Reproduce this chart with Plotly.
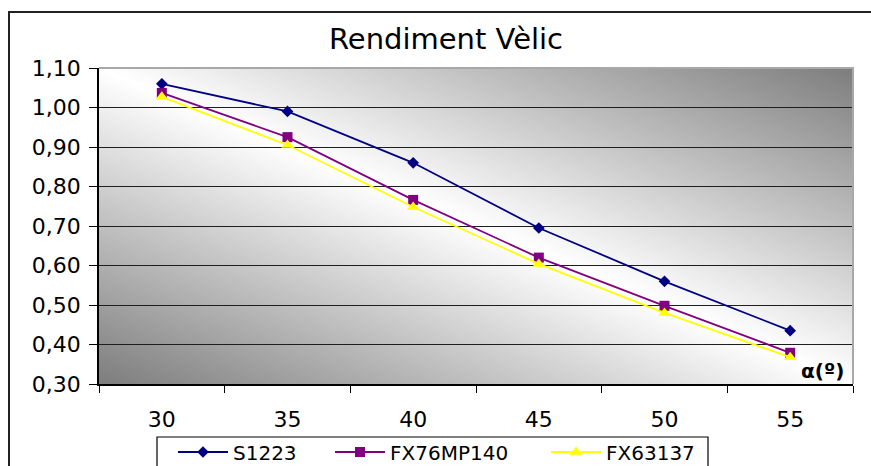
import base64
import plotly.graph_objects as go

# ---- data ----
angles = ["30", "35", "40", "45", "50", "55"]
s1223 = [1.06, 0.99, 0.86, 0.695, 0.56, 0.435]
fx76mp140 = [1.037, 0.925, 0.766, 0.62, 0.498, 0.379]
fx63137 = [1.027, 0.905, 0.748, 0.604, 0.48, 0.368]
y_ticks = [0.3, 0.4, 0.5, 0.6, 0.7, 0.8, 0.9, 1.0, 1.1]

FONT = "DejaVu Sans"

# plot area in pixels (871x466 page)
L, R, T, B = 99, 853, 68, 384
PW, PH = R - L, B - T


def px(x):
    return (x - L) / PW


def py(y):
    return (B - y) / PH


fig = go.Figure()

fig.add_trace(go.Scatter(
    x=angles, y=s1223, name="S1223", mode="lines+markers",
    line=dict(color="#000080", width=1.8),
    marker=dict(symbol="diamond", size=9, color="#000080"),
    legendwidth=92,
))
fig.add_trace(go.Scatter(
    x=angles, y=fx76mp140, name="FX76MP140", mode="lines+markers",
    line=dict(color="#800080", width=1.8),
    marker=dict(symbol="square", size=10, color="#800080"),
    legendwidth=151,
))
fig.add_trace(go.Scatter(
    x=angles, y=fx63137, name="FX63137", mode="lines+markers",
    line=dict(color="#FFFF00", width=1.8),
    marker=dict(symbol="triangle-up", size=11, color="#FFFF00"),
    legendwidth=100,
))

# diagonal gradient background of the plot area
svg = (
    '<svg xmlns="http://www.w3.org/2000/svg" width="754" height="316" '
    'viewBox="0 0 754 316" preserveAspectRatio="none">'
    '<defs><linearGradient id="g" x1="0" y1="1" x2="1" y2="0">'
    '<stop offset="0" stop-color="#7d7d7d"/>'
    '<stop offset="0.5" stop-color="#ffffff"/>'
    '<stop offset="1" stop-color="#7d7d7d"/>'
    '</linearGradient></defs>'
    '<rect width="754" height="316" fill="url(#g)"/></svg>'
)
src = "data:image/svg+xml;base64," + base64.b64encode(svg.encode()).decode()

fig.update_layout(
    width=871, height=466, autosize=False,
    margin=dict(l=L, r=871 - R, t=T, b=466 - B, pad=0, autoexpand=False),
    paper_bgcolor="white", plot_bgcolor="white",
    separators=",.",
    font=dict(family=FONT, size=22, color="black"),
    title=dict(text="Rendiment Vèlic", x=446 / 871, xref="container", xanchor="center",
               y=1 - 39 / 466, yref="container", yanchor="middle",
               font=dict(family=FONT, size=29, color="black")),
    images=[dict(source=src, xref="paper", yref="paper", x=0, y=1, sizex=1, sizey=1,
                 sizing="stretch", layer="below", xanchor="left", yanchor="top")],
    showlegend=True,
    legend=dict(orientation="h", x=px(173), xanchor="left", y=py(452), yanchor="middle",
                bgcolor="rgba(0,0,0,0)", borderwidth=0, itemwidth=50,
                font=dict(family=FONT, size=20, color="black"), traceorder="normal"),
)

fig.update_xaxes(
    type="category", categoryorder="array", categoryarray=angles,
    range=[-0.5, len(angles) - 0.5], tickson="boundaries",
    ticks="outside", ticklen=7, tickwidth=1.3, tickcolor="black",
    showline=True, linecolor="black", linewidth=1.5, showgrid=False, zeroline=False,
    ticklabelstandoff=15, tickfont=dict(family=FONT, size=22),
)
fig.update_yaxes(
    range=[0.3, 1.1], tickvals=y_ticks, tickformat=".2f",
    ticks="outside", ticklen=8, tickwidth=1.3, tickcolor="black",
    showline=True, linecolor="black", linewidth=1.5,
    showgrid=True, gridcolor="#1e1e1e", gridwidth=1.3, zeroline=False,
    ticklabelstandoff=4, tickfont=dict(family=FONT, size=22),
)

shapes = [
    # outer chart frame
    dict(type="rect", xref="paper", yref="paper", x0=px(9), x1=px(885), y0=py(480), y1=py(12),
         line=dict(color="#222222", width=2), fillcolor="rgba(0,0,0,0)", layer="below"),
    # legend box
    dict(type="rect", xref="paper", yref="paper", x0=px(157), x1=px(708), y0=py(480), y1=py(437),
         line=dict(color="black", width=1.2), fillcolor="white", layer="below"),
    # grey top/right border of the plot area
    dict(type="path", xref="paper", yref="paper", path="M 0,1 L 1,1 L 1,0",
         line=dict(color="#a8a8a8", width=2), layer="above"),
]
fig.update_layout(shapes=shapes)

fig.add_annotation(text="<b>α(º)</b>", xref="paper", yref="paper", x=px(846), y=py(371),
                   xanchor="right", yanchor="middle", showarrow=False,
                   font=dict(family=FONT, size=20, color="black"))

fig.write_html("out.html")
